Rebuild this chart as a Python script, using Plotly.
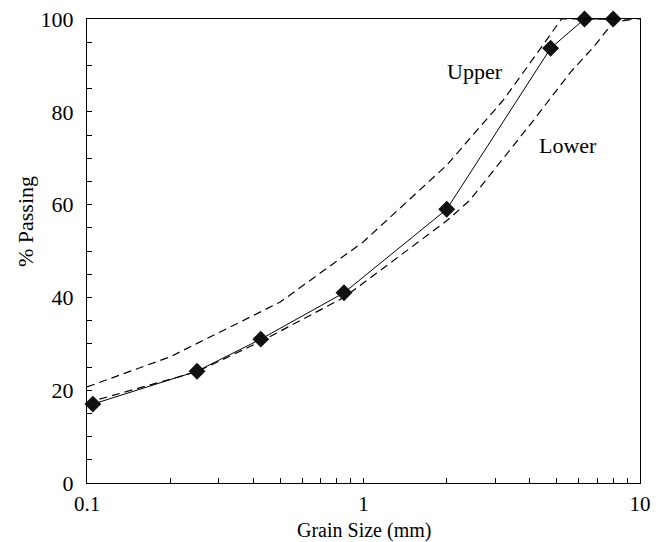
import plotly.graph_objects as go

# Sample gradation (markers, solid line)
sample_size = [0.105, 0.25, 0.425, 0.85, 2.0, 4.75, 6.3, 8.0]
sample_pass = [17.0, 24.1, 31.0, 41.0, 59.0, 93.7, 100.0, 100.0]

# Upper envelope (dashed)
upper_size = [0.1, 0.2, 0.5, 1.0, 2.0, 3.2, 4.35, 5.2, 10.0]
upper_pass = [20.7, 27.2, 39.0, 52.0, 68.5, 82.5, 93.5, 100.0, 100.0]

# Lower envelope (dashed)
lower_size = [0.1, 0.25, 0.425, 0.85, 2.0, 2.43, 4.1, 5.6, 6.8, 8.0, 9.5]
lower_pass = [17.3, 24.0, 30.5, 40.0, 56.5, 61.0, 78.0, 88.5, 94.0, 99.3, 100.0]

x_ticks = [0.1, 0.2, 0.3, 0.4, 0.5, 0.6, 0.7, 0.8, 0.9,
           1, 2, 3, 4, 5, 6, 7, 8, 9, 10]
x_labels = ["0.1", "", "", "", "", "", "", "", "",
            "1", "", "", "", "", "", "", "", "", "10"]
y_ticks = list(range(0, 101, 5))
y_labels = [str(v) if v % 20 == 0 else "" for v in y_ticks]

FONT = "Liberation Serif"
FS = 22
FS_X = 21
FS_T = 20

fig = go.Figure()
fig.add_trace(go.Scatter(x=upper_size, y=upper_pass, mode="lines",
                         line=dict(color="black", width=1.2, dash="8px,5px"),
                         showlegend=False, hoverinfo="skip"))
fig.add_trace(go.Scatter(x=lower_size, y=lower_pass, mode="lines",
                         line=dict(color="black", width=1.2, dash="8px,5px"),
                         showlegend=False, hoverinfo="skip"))
fig.add_trace(go.Scatter(x=sample_size, y=sample_pass, mode="lines+markers",
                         line=dict(color="black", width=1),
                         marker=dict(symbol="diamond", size=13, color="#111111"),
                         showlegend=False, cliponaxis=False))

# labels (log axis: annotation x is log10 of value)
fig.add_annotation(x=0.403, y=88.6, xref="x", yref="y", text="Upper",
                   showarrow=False, font=dict(family=FONT, size=FS, color="black"),
                   xanchor="center", yanchor="middle")
fig.add_annotation(x=0.74, y=72.8, xref="x", yref="y", text="Lower",
                   showarrow=False, font=dict(family=FONT, size=FS, color="black"),
                   xanchor="center", yanchor="middle")

# axis titles
fig.add_annotation(x=0.5, y=-0.1013, xref="paper", yref="paper",
                   text="Grain Size (mm)", showarrow=False,
                   font=dict(family=FONT, size=FS_T, color="black"),
                   xanchor="center", yanchor="middle")
fig.add_annotation(x=-0.112, y=0.5625, xref="paper", yref="paper",
                   text="% Passing", showarrow=False, textangle=-90,
                   font=dict(family=FONT, size=FS, color="black"),
                   xanchor="center", yanchor="middle")

fig.update_layout(
    width=666, height=542,
    margin=dict(l=87, r=26, t=19, b=59, autoexpand=False),
    paper_bgcolor="white", plot_bgcolor="white",
    font=dict(family=FONT, size=FS, color="black"),
)
fig.update_xaxes(type="log", range=[-1, 1], automargin=False,
                 tickvals=x_ticks, ticktext=x_labels,
                 ticks="inside", ticklen=5, tickwidth=1, tickcolor="black",
                 showline=True, linecolor="black", linewidth=1, mirror=True,
                 showgrid=False, zeroline=False, ticklabelstandoff=2,
                 tickfont=dict(family=FONT, size=FS_X))
fig.update_yaxes(range=[0, 100], automargin=False,
                 tickvals=y_ticks, ticktext=y_labels,
                 ticks="inside", ticklen=5, tickwidth=1, tickcolor="black",
                 showline=True, linecolor="black", linewidth=1, mirror=True,
                 showgrid=False, zeroline=False, ticklabelstandoff=8,
                 tickfont=dict(family=FONT, size=FS))

fig.write_html("out.html")
